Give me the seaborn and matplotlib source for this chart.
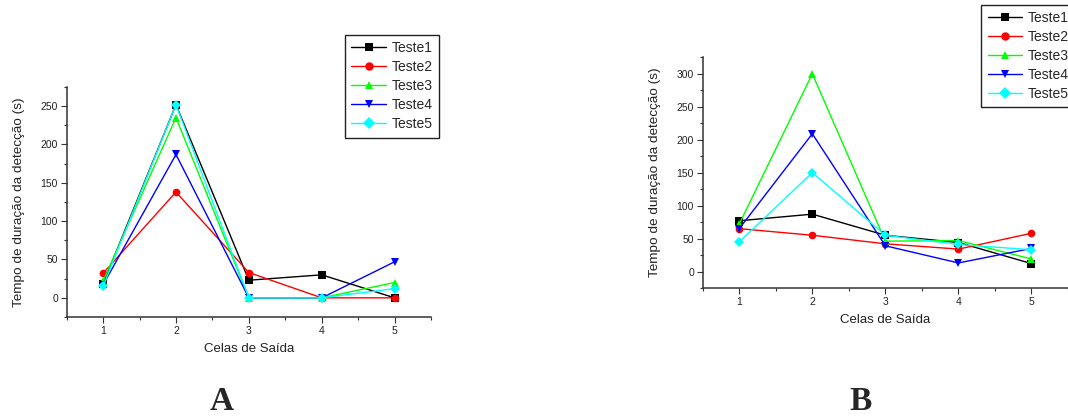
import matplotlib
matplotlib.use("Agg")
import matplotlib.pyplot as plt
import numpy as np
import pandas as pd
import seaborn as sns
from matplotlib.ticker import MultipleLocator

# Celas de saída (x) e tempos
celas = [1, 2, 3, 4, 5]
testes = ["Teste1", "Teste2", "Teste3", "Teste4", "Teste5"]

# Painel A
a_teste1 = [18, 252, 23, 30, 0]
a_teste2 = [32, 138, 33, 0, 0]
a_teste3 = [22, 235, 0, 0, 20]
a_teste4 = [17, 187, 0, 0, 47]
a_teste5 = [15, 252, 0, 0, 12]

# Painel B
b_teste1 = [77, 87, 55, 44, 12]
b_teste2 = [65, 55, 42, 34, 58]
b_teste3 = [72, 300, 46, 47, 19]
b_teste4 = [65, 209, 39, 13, 35]
b_teste5 = [45, 150, 55, 41, 33]

cores = {"Teste1": "#000000", "Teste2": "#ff0000", "Teste3": "#00ff00",
         "Teste4": "#0000ff", "Teste5": "#00ffff"}
marcadores = {"Teste1": "s", "Teste2": "o", "Teste3": "^",
              "Teste4": "v", "Teste5": "D"}


def long_df(series):
    rows = []
    for nome, vals in zip(testes, series):
        for c, v in zip(celas, vals):
            rows.append({"cela": c, "tempo": v, "teste": nome})
    return pd.DataFrame(rows)


sns.set_style("ticks")
plt.rcParams['font.family'] = ['Liberation Sans', 'DejaVu Sans']

fig = plt.figure(figsize=(10.68, 4.17), dpi=100)
ax_a = fig.add_axes([0.0624, 0.2398, 0.3412, 0.5516])
ax_b = fig.add_axes([0.658, 0.3094, 0.342, 0.5532])


def painel(ax, df, ylim, ymaj, leg_anchor):
    sns.lineplot(data=df, x="cela", y="tempo", hue="teste", style="teste",
                 palette=cores, markers=marcadores, dashes=False,
                 linewidth=1.0, markersize=5.5, markeredgewidth=0,
                 ax=ax, legend=True)
    ax.set_xlim(0.5, 5.5)
    ax.set_ylim(*ylim)
    ax.xaxis.set_major_locator(MultipleLocator(1))
    ax.xaxis.set_minor_locator(MultipleLocator(0.5))
    ax.yaxis.set_major_locator(MultipleLocator(ymaj))
    ax.yaxis.set_minor_locator(MultipleLocator(25))
    ax.tick_params(which="major", direction="out", length=4.3, width=0.8,
                   labelsize=7.5, color="#333333", labelcolor="#222222", pad=2)
    ax.tick_params(which="minor", direction="out", length=2.2, width=0.8,
                   color="#333333")
    ax.set_yticks(np.arange(0, ylim[1], ymaj))
    for s in ["top", "right"]:
        ax.spines[s].set_visible(False)
    for s in ["left", "bottom"]:
        ax.spines[s].set_linewidth(1.1)
        ax.spines[s].set_color("#333333")
    ax.set_xlabel("Celas de Saída", fontsize=9.5, labelpad=5, color="#222222")
    ax.set_ylabel("Tempo de duração da detecção (s)", fontsize=9.7,
                  labelpad=11, color="#222222")
    handles, labels = ax.get_legend_handles_labels()
    leg = ax.legend(handles, labels, loc="upper left",
                    bbox_to_anchor=leg_anchor, bbox_transform=fig.transFigure,
                    fontsize=10, frameon=True, fancybox=False,
                    edgecolor="#222222", framealpha=1, handlelength=2.5,
                    handletextpad=0.4, labelspacing=0.36, borderpad=0.45,
                    borderaxespad=0, markerscale=1.1)
    leg.get_frame().set_linewidth(1.0)


painel(ax_a, long_df([a_teste1, a_teste2, a_teste3, a_teste4, a_teste5]),
       (-25, 275), 50, (0.323, 0.916))
painel(ax_b, long_df([b_teste1, b_teste2, b_teste3, b_teste4, b_teste5]),
       (-25, 325), 50, (0.919, 0.989))

fig.text(0.208, 0.036, "A", fontsize=24, fontweight="bold",
         family="Liberation Serif", ha="center", va="center")
fig.text(0.806, 0.036, "B", fontsize=24, fontweight="bold",
         family="Liberation Serif", ha="center", va="center")

fig.savefig("out.png", dpi=100)
